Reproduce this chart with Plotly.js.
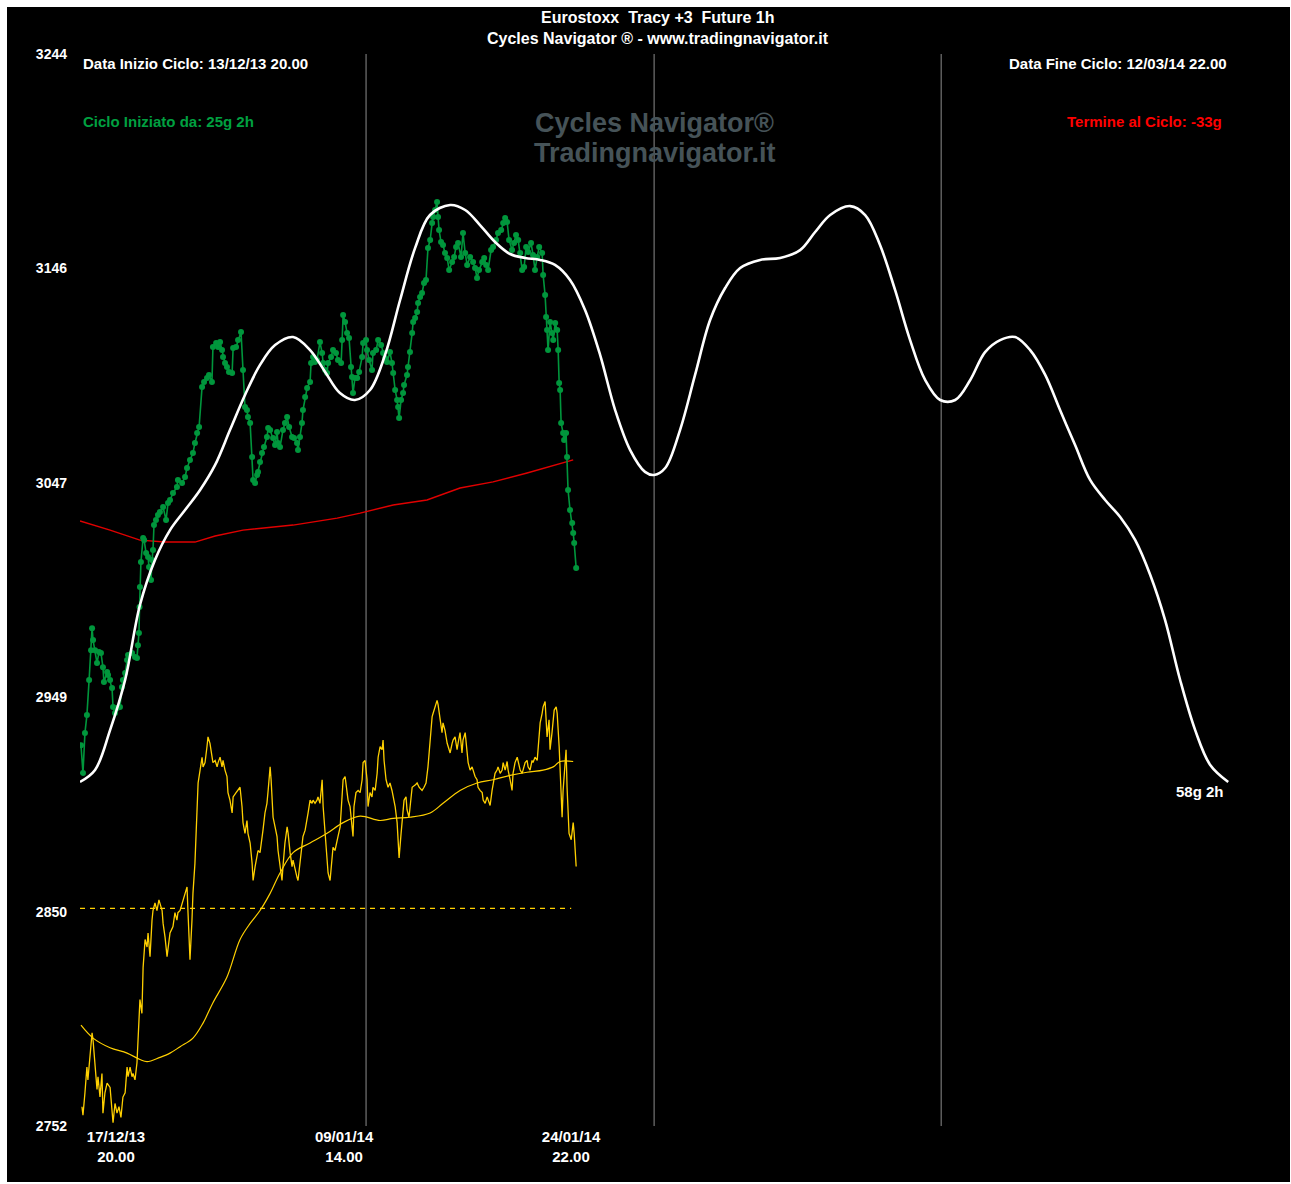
<!DOCTYPE html>
<html>
<head>
<meta charset="utf-8">
<script src="https://cdn.plot.ly/plotly-3.0.1.min.js"></script>
<style>
  html, body { margin: 0; padding: 0; background: #ffffff; }
  #chart { position: absolute; left: 7px; top: 7px; width: 1283px; height: 1175px; }
</style>
</head>
<body>
<div id="chart"></div>
<script>
// ---- Cycle projection (white) : days from cycle start, price level
const cycleDays = [0,0.76,1.52,2.28,3.03,3.79,4.55,5.31,6.07,6.83,7.58,8.34,9.10,9.86,10.77,11.63,12.39,13.14,13.90,14.66,15.42,16.18,16.94,17.69,18.71,19.47,20.22,20.98,21.74,22.50,23.26,24.01,24.77,25.53,26.29,27.05,27.81,28.56,29.02,29.58,30.33,31.09,31.85,32.61,33.37,34.38,35.39,36.40,37.16,37.92,38.93,39.69,40.44,41.20,41.96,42.72,43.48,44.24,45.00,45.75,46.51,47.27,48.03,48.79,49.54,50.30,51.06,51.82,52.58,53.34,54.10,54.85,55.61,56.37,57.13,58.04];
const cycleLevels = [2909.9,2915.4,2933.7,2956.7,2991.1,3011.8,3025.5,3034.7,3043.9,3055.4,3071.4,3087.5,3101.3,3110.4,3114.1,3108.1,3098.1,3088.4,3085.2,3089.8,3105.9,3131.1,3155.0,3170.1,3174.7,3172.4,3165.5,3157.7,3152.2,3150.4,3149.5,3147.2,3140.3,3126.5,3105.9,3080.6,3062.2,3052.2,3050.8,3054.0,3071.4,3096.7,3121.9,3136.6,3145.8,3149.5,3150.4,3154.0,3162.3,3170.1,3174.2,3170.1,3156.3,3135.7,3112.7,3094.4,3085.2,3085.2,3094.4,3107.2,3112.7,3114.1,3108.1,3096.7,3080.6,3064.5,3048.5,3039.3,3031.5,3020.9,3004.9,2984.2,2956.7,2933.7,2917.7,2909.9];

// ---- Price 1h (green)
const priceDays = [0.05,0.15,0.25,0.35,0.46,0.56,0.61,0.66,0.76,0.86,0.96,1.06,1.16,1.21,1.37,1.42,1.52,1.62,1.67,1.77,1.87,2.02,2.12,2.17,2.28,2.38,2.43,2.63,2.78,2.88,2.93,2.98,3.01,3.03,3.08,3.19,3.24,3.34,3.44,3.49,3.59,3.64,3.69,3.74,3.84,3.94,4.04,4.20,4.35,4.45,4.55,4.70,4.90,4.95,5.16,5.31,5.41,5.56,5.71,5.81,5.92,6.02,6.17,6.27,6.42,6.52,6.67,6.72,6.88,6.98,7.08,7.18,7.23,7.33,7.43,7.53,7.69,7.74,7.89,7.99,8.14,8.24,8.34,8.44,8.49,8.60,8.70,8.75,8.85,8.95,9.00,9.10,9.20,9.30,9.45,9.51,9.61,9.76,9.86,9.96,10.01,10.11,10.26,10.36,10.47,10.57,10.72,10.82,10.97,11.02,11.12,11.22,11.27,11.38,11.48,11.63,11.68,11.78,11.88,11.98,12.13,12.24,12.29,12.39,12.49,12.54,12.69,12.79,12.94,13.04,13.20,13.25,13.30,13.40,13.50,13.60,13.70,13.75,13.80,13.90,14.01,14.11,14.26,14.31,14.46,14.51,14.61,14.76,14.81,14.97,15.07,15.22,15.32,15.42,15.52,15.67,15.77,15.83,15.93,16.03,16.08,16.13,16.23,16.33,16.38,16.53,16.58,16.68,16.79,16.84,16.94,17.04,17.09,17.19,17.29,17.39,17.49,17.59,17.70,17.80,17.85,17.95,18.05,18.10,18.15,18.25,18.35,18.45,18.56,18.66,18.81,18.91,19.01,19.11,19.26,19.36,19.47,19.57,19.72,19.87,19.97,20.07,20.17,20.33,20.43,20.53,20.63,20.78,20.88,21.03,21.13,21.29,21.39,21.49,21.59,21.69,21.84,21.94,22.04,22.15,22.25,22.35,22.45,22.55,22.65,22.80,22.90,23.00,23.11,23.21,23.36,23.41,23.51,23.56,23.61,23.66,23.76,23.86,23.92,24.02,24.12,24.17,24.22,24.27,24.32,24.42,24.47,24.57,24.62,24.67,24.77,24.88,24.93,24.98,25.08];
const priceClose = [2926.8,2914.0,2932.4,2940.6,2956.7,2970.4,2980.5,2975.0,2970.4,2964.5,2969.5,2969.1,2962.6,2955.8,2960.4,2959.0,2956.7,2953.0,2944.3,2941.5,2943.8,2944.3,2953.5,2956.7,2959.9,2965.9,2968.2,2969.1,2967.2,2966.8,2972.7,2978.3,2990.2,2999.4,3010.8,3021.9,3020.9,3015.0,3013.1,3008.5,3002.6,3011.8,3016.4,3027.8,3030.1,3032.4,3033.8,3036.1,3030.1,3037.9,3039.3,3042.5,3045.3,3048.5,3047.1,3049.9,3054.0,3057.7,3060.9,3065.5,3070.1,3072.8,3091.2,3093.5,3095.3,3096.7,3093.5,3109.5,3111.4,3109.5,3111.8,3108.1,3104.9,3102.2,3100.3,3098.1,3097.6,3109.1,3109.5,3112.7,3116.4,3099.0,3082.0,3080.6,3077.4,3074.6,3059.0,3048.5,3047.1,3050.8,3052.2,3056.7,3060.9,3063.6,3068.2,3072.3,3071.4,3067.8,3064.5,3070.5,3065.5,3063.6,3071.4,3074.6,3077.4,3072.8,3068.2,3067.8,3065.5,3062.2,3068.2,3074.6,3080.6,3086.6,3090.7,3093.5,3102.2,3104.9,3102.6,3103.6,3111.8,3106.8,3102.2,3099.0,3097.6,3102.2,3104.9,3108.1,3106.8,3103.6,3102.2,3112.7,3124.2,3121.0,3116.0,3113.7,3100.3,3095.8,3088.4,3095.3,3095.3,3098.1,3104.9,3111.4,3112.7,3108.1,3103.6,3099.0,3106.8,3108.1,3112.7,3110.4,3106.8,3104.5,3102.6,3107.2,3102.2,3097.6,3089.8,3085.2,3082.0,3076.9,3085.2,3088.4,3092.1,3096.7,3100.3,3107.2,3116.0,3121.0,3122.8,3125.6,3129.7,3132.5,3134.3,3138.9,3140.3,3155.0,3158.6,3166.4,3169.2,3172.4,3176.1,3169.2,3163.2,3157.7,3156.3,3152.7,3150.4,3144.9,3148.5,3150.8,3155.4,3157.3,3150.8,3161.9,3152.7,3147.2,3150.8,3148.5,3145.8,3141.2,3144.9,3148.5,3150.4,3147.2,3144.9,3154.0,3155.4,3158.6,3161.9,3163.2,3166.4,3168.7,3166.9,3158.6,3154.0,3157.3,3160.9,3158.6,3152.7,3144.9,3146.2,3155.4,3153.1,3157.3,3151.8,3144.9,3150.8,3155.4,3152.7,3142.6,3133.4,3123.3,3117.3,3108.1,3121.0,3116.0,3112.7,3120.5,3117.3,3108.1,3093.0,3089.8,3074.6,3070.1,3066.8,3070.1,3059.0,3043.9,3034.7,3028.7,3024.2,3019.6,3008.1];

// ---- Moving average (red)
const maDays = [0,1.52,3.03,4.30,5.81,6.83,8.24,10.77,13.00,14.16,15.83,17.54,19.21,20.88,22.60,23.61,24.93];
const maValues = [3029.7,3025.5,3020.9,3020.0,3020.0,3022.8,3025.5,3027.8,3031.0,3033.3,3037.0,3039.3,3044.8,3047.6,3051.7,3054.4,3057.7];

// ---- Oscillator (yellow), scale 0-100
const oscDays = [0.10,0.15,0.25,0.35,0.40,0.51,0.61,0.66,0.76,0.86,0.91,1.01,1.11,1.16,1.26,1.37,1.52,1.62,1.67,1.77,1.87,1.97,2.07,2.17,2.28,2.38,2.43,2.53,2.63,2.68,2.78,2.88,2.93,3.03,3.13,3.19,3.29,3.39,3.44,3.54,3.64,3.69,3.79,3.89,3.99,4.15,4.20,4.30,4.40,4.45,4.55,4.70,4.80,4.90,4.95,5.06,5.21,5.31,5.41,5.46,5.56,5.66,5.71,5.81,5.92,5.97,6.07,6.17,6.22,6.32,6.42,6.47,6.57,6.67,6.72,6.83,6.93,6.98,7.08,7.18,7.23,7.33,7.43,7.48,7.58,7.69,7.74,7.89,7.99,8.09,8.19,8.24,8.34,8.44,8.49,8.60,8.70,8.75,8.85,8.95,9.00,9.10,9.20,9.25,9.35,9.45,9.51,9.61,9.66,9.76,9.86,9.96,10.01,10.11,10.21,10.26,10.36,10.47,10.52,10.62,10.72,10.77,10.87,10.97,11.02,11.12,11.22,11.27,11.38,11.48,11.53,11.63,11.73,11.78,11.88,11.98,12.03,12.13,12.24,12.29,12.39,12.49,12.54,12.64,12.74,12.79,12.89,12.99,13.04,13.15,13.25,13.30,13.40,13.50,13.55,13.65,13.75,13.80,13.85,13.95,14.06,14.16,14.26,14.31,14.41,14.51,14.56,14.66,14.76,14.81,14.92,15.02,15.07,15.17,15.27,15.32,15.37,15.47,15.57,15.67,15.77,15.83,15.93,16.03,16.08,16.13,16.23,16.28,16.38,16.48,16.53,16.63,16.74,16.79,16.94,17.04,17.14,17.29,17.39,17.49,17.59,17.70,17.80,17.85,17.95,18.05,18.10,18.20,18.30,18.35,18.45,18.56,18.61,18.71,18.81,18.86,18.96,19.06,19.11,19.21,19.31,19.36,19.47,19.57,19.62,19.72,19.82,19.87,19.97,20.07,20.12,20.22,20.33,20.38,20.48,20.58,20.63,20.73,20.83,20.88,20.98,21.08,21.13,21.24,21.34,21.39,21.49,21.59,21.64,21.74,21.84,21.89,21.99,22.10,22.15,22.25,22.35,22.40,22.50,22.60,22.65,22.75,22.85,22.90,23.00,23.11,23.16,23.26,23.36,23.41,23.51,23.56,23.61,23.71,23.76,23.86,23.92,23.97,24.07,24.12,24.22,24.27,24.32,24.37,24.42,24.52,24.57,24.62,24.67,24.72,24.83,24.88,24.93,24.98,25.03,25.08];
const oscValues = [1.8,1.0,3.1,5.5,4.3,6.8,8.7,8.0,5.5,3.4,4.6,2.7,4.9,1.2,3.1,4.0,3.6,1.5,0.3,2.1,1.2,1.8,0.8,2.7,3.1,5.5,4.6,5.5,4.6,4.9,4.3,5.9,8.0,11.8,10.5,14.8,17.4,16.7,18.0,15.8,19.2,20.1,20.8,20.1,21.1,20.1,18.9,17.6,15.8,16.7,18.0,18.6,19.9,19.2,19.9,20.1,21.1,21.7,22.3,19.9,15.5,19.2,21.7,24.5,29.2,32.0,33.2,34.4,33.5,33.9,35.4,36.3,35.7,34.1,33.9,34.1,33.5,33.9,34.4,33.5,34.1,33.2,32.6,31.1,30.4,29.2,30.7,31.1,31.3,31.6,29.8,28.3,27.3,28.5,27.3,26.4,24.5,22.9,24.2,25.1,25.7,25.5,26.7,27.6,29.2,30.1,31.3,33.5,32.3,28.8,27.9,27.0,25.7,24.2,22.9,24.2,26.4,27.9,27.3,25.5,24.2,24.8,23.9,23.2,22.9,24.8,26.0,27.0,27.6,28.5,29.2,30.4,30.1,30.4,30.1,30.4,30.7,30.1,32.3,29.8,27.0,24.8,23.6,22.9,25.5,26.0,25.7,26.4,27.0,27.9,30.4,32.3,32.6,31.3,30.4,29.8,27.9,27.0,29.8,31.1,31.3,31.1,32.3,33.9,34.1,32.3,29.8,31.1,30.7,31.6,31.3,32.9,34.4,35.4,35.1,36.0,34.1,32.3,31.6,32.0,31.3,30.7,29.8,28.3,26.4,25.0,27.3,28.5,30.4,30.7,29.5,28.8,30.7,31.6,31.8,32.0,31.6,31.3,31.6,32.0,33.5,36.0,38.2,38.5,39.1,39.7,39.3,37.9,36.7,37.6,36.9,35.7,35.4,34.8,35.7,36.0,36.3,35.1,35.7,36.7,34.8,36.0,36.7,34.4,33.9,33.2,33.5,33.2,32.6,32.3,31.6,31.3,31.1,30.4,30.1,30.7,30.4,29.9,31.3,32.0,32.9,33.2,33.5,32.9,33.2,33.9,33.2,34.0,33.2,32.3,31.3,32.9,33.9,34.4,33.9,33.2,32.9,33.2,33.9,34.1,33.5,33.2,34.1,33.9,34.4,34.1,35.4,37.6,38.5,39.1,39.6,37.9,36.3,37.9,35.1,36.7,38.2,38.8,39.1,38.5,35.4,32.9,30.7,28.8,31.3,34.1,35.1,31.6,29.2,27.3,26.7,27.9,28.3,27.3,26.0,24.2];

// ---- Oscillator average (yellow, smooth)
const oscAvgDays = [0.05,0.66,1.52,2.38,3.03,3.39,4.04,4.55,5.06,5.71,6.22,6.72,7.43,8.09,8.60,9.10,9.61,10.11,10.77,11.63,12.49,13.30,14.16,15.17,15.83,16.68,17.70,18.35,19.21,20.07,20.88,21.74,22.60,23.41,23.92,24.27,24.93];
const oscAvgValues = [9.4,8.2,7.3,6.8,6.2,6.0,6.4,6.8,7.4,8.2,9.6,11.5,13.9,17.4,18.9,20.1,21.7,23.6,25.5,26.4,27.3,28.3,28.9,28.5,28.7,28.8,29.2,30.1,31.3,32.0,32.3,32.7,33.0,33.2,33.5,34.0,34.0];

// ---- Oscillator reference level (dashed)
const oscLevelDays = [0, 24.83];
const oscLevelValues = [20.3, 20.3];

// ---- Axes
const cycleLength = 58.08;
const quarterDays = [14.46, 29.02, 43.53];
const xTickDays = [1.82, 13.35, 24.82];
const xTickLabels = ['<b>17/12/13</b><br><b>20.00</b>', '<b>09/01/14</b><br><b>14.00</b>', '<b>24/01/14</b><br><b>22.00</b>'];
const yTickValues = [3244, 3145.6, 3047.2, 2948.8, 2850.4, 2752];
const yTickLabels = ['<b>3244</b>', '<b>3146</b>', '<b>3047</b>', '<b>2949</b>', '<b>2850</b>', '<b>2752</b>'];

const FONT = 'Liberation Sans, Arial, sans-serif';
const YELLOW = '#FFD000';
const GREEN = '#00963C';

const traces = [
  { x: oscLevelDays, y: oscLevelValues, yaxis: 'y2', type: 'scatter', mode: 'lines',
    line: { color: YELLOW, width: 1.3, dash: '5px,5px' }, hoverinfo: 'skip' },
  { x: oscAvgDays, y: oscAvgValues, yaxis: 'y2', type: 'scatter', mode: 'lines',
    line: { color: YELLOW, width: 1.2, shape: 'spline' }, hoverinfo: 'skip' },
  { x: oscDays, y: oscValues, yaxis: 'y2', type: 'scatter', mode: 'lines',
    line: { color: YELLOW, width: 1.3 }, hoverinfo: 'skip' },
  { x: maDays, y: maValues, type: 'scatter', mode: 'lines',
    line: { color: '#E00000', width: 1.4 }, hoverinfo: 'skip' },
  { x: priceDays, y: priceClose, type: 'scatter', mode: 'lines+markers',
    line: { color: GREEN, width: 1.6 }, marker: { color: GREEN, size: 6, symbol: 'circle' }, hoverinfo: 'skip' },
  { x: cycleDays, y: cycleLevels, type: 'scatter', mode: 'lines',
    line: { color: '#FFFFFF', width: 2.6, shape: 'spline', smoothing: 1 }, hoverinfo: 'skip' }
];

const shapes = quarterDays.map(d => ({
  type: 'line', xref: 'x', yref: 'paper', x0: d, x1: d, y0: 0, y1: 1,
  line: { color: '#8C8C8C', width: 1 }, layer: 'below'
}));

function ann(text, x, y, xanchor, size, color) {
  return { text: text, x: x, y: y, xref: 'paper', yref: 'paper', xanchor: xanchor, yanchor: 'middle',
    showarrow: false, font: { family: FONT, size: size, color: color } };
}

const annotations = [
  ann('<b>Eurostoxx  Tracy +3  Future 1h</b>', 0.503, 1.0345, 'center', 16, '#FFFFFF'),
  ann('<b>Cycles Navigator ® - www.tradingnavigator.it</b>', 0.503, 1.0149, 'center', 16, '#FFFFFF'),
  ann('<b>Data Inizio Ciclo: 13/12/13 20.00</b>', 0.001, 0.9916, 'left', 15, '#FFFFFF'),
  ann('<b>Ciclo Iniziato da: 25g 2h</b>', 0.001, 0.9375, 'left', 15, '#00A040'),
  ann('<b>Data Fine Ciclo: 12/03/14 22.00</b>', 1.0, 0.9916, 'right', 15, '#FFFFFF'),
  ann('<b>Termine al Ciclo: -33g</b>', 0.996, 0.9375, 'right', 15, '#FF0000'),
  ann('<b>Cycles Navigator®</b>', 0.5004, 0.9356, 'center', 27, '#465358'),
  ann('<b>Tradingnavigator.it</b>', 0.5004, 0.9077, 'center', 27, '#465358'),
  ann('<b>58g 2h</b>', 0.9748, 0.3116, 'center', 15, '#FFFFFF')
];

const layout = {
  width: 1283, height: 1175,
  margin: { l: 73, r: 61, t: 47, b: 56, pad: 0 },
  paper_bgcolor: '#000000', plot_bgcolor: '#000000',
  showlegend: false,
  font: { family: FONT, color: '#FFFFFF' },
  xaxis: {
    range: [0, cycleLength], showgrid: false, zeroline: false, showline: false,
    tickmode: 'array', tickvals: xTickDays, ticktext: xTickLabels, ticks: '',
    tickfont: { family: FONT, size: 15, color: '#FFFFFF' }, ticklabelstandoff: 0, fixedrange: true
  },
  yaxis: {
    range: [2752, 3244], showgrid: false, zeroline: false, showline: false,
    tickmode: 'array', tickvals: yTickValues, ticktext: yTickLabels, ticks: '',
    tickfont: { family: FONT, size: 14, color: '#FFFFFF' }, ticklabelstandoff: 12, fixedrange: true
  },
  yaxis2: { range: [0, 100], overlaying: 'y', visible: false, fixedrange: true },
  shapes: shapes,
  annotations: annotations
};

Plotly.newPlot('chart', traces, layout, { displayModeBar: false, staticPlot: true });
</script>
</body>
</html>
